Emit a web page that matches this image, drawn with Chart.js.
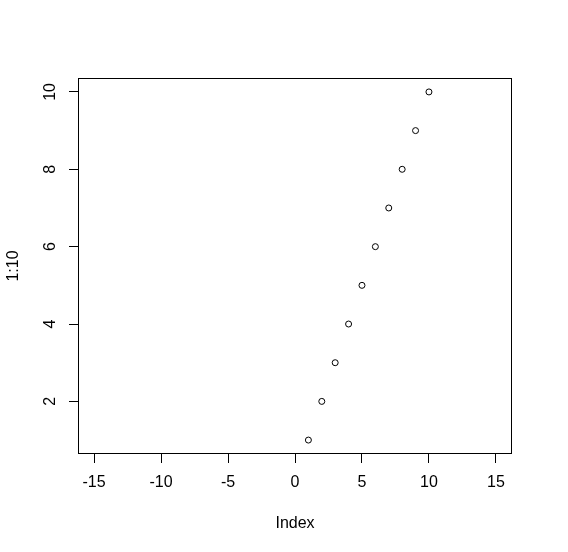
<!DOCTYPE html>
<html>
<head>
<meta charset="utf-8">
<script src="https://cdn.jsdelivr.net/npm/chart.js@4/dist/chart.umd.min.js"></script>
<style>
html,body{margin:0;padding:0;background:#fff;}
canvas{display:block;}
</style>
</head>
<body>
<canvas id="c" width="568" height="552"></canvas>
<script>
const indexValues = [1, 2, 3, 4, 5, 6, 7, 8, 9, 10];
const seriesValues = [1, 2, 3, 4, 5, 6, 7, 8, 9, 10];
const xTicks = [-15, -10, -5, 0, 5, 10, 15];
const yTicks = [2, 4, 6, 8, 10];
const xLimits = [-16.2, 16.2];
const yLimits = [0.64, 10.36];
const xTitle = 'Index';
const yTitle = '1:10';

const FONT = {family: '"Liberation Sans", Arial, sans-serif', size: 16};

const boxPlugin = {
  id: 'box',
  afterDraw(chart) {
    const a = chart.chartArea;
    const ctx = chart.ctx;
    ctx.save();
    ctx.strokeStyle = '#000';
    ctx.lineWidth = 1;
    ctx.strokeRect(Math.round(a.left) + 0.5, Math.round(a.top) + 0.5,
      Math.round(a.right - a.left) - 1, Math.round(a.bottom - a.top) - 1);
    ctx.restore();
  }
};

new Chart(document.getElementById('c'), {
  type: 'scatter',
  data: {
    datasets: [{
      data: indexValues.map((x, i) => ({x: x, y: seriesValues[i]})),
      pointRadius: 3,
      pointHoverRadius: 3,
      pointBorderWidth: 1,
      pointBorderColor: '#000',
      pointBackgroundColor: 'rgba(0,0,0,0)',
      showLine: false
    }]
  },
  options: {
    responsive: false,
    animation: false,
    events: [],
    layout: {padding: {top: 78, right: 56, left: 0, bottom: 0}},
    plugins: {legend: {display: false}, tooltip: {enabled: false}},
    scales: {
      x: {
        type: 'linear',
        min: xLimits[0],
        max: xLimits[1],
        afterBuildTicks(scale) { scale.ticks = xTicks.map(v => ({value: v})); },
        afterFit(scale) { scale.height = 98; },
        grid: {display: true, drawOnChartArea: false, drawTicks: true, tickLength: 9, color: '#000', lineWidth: 1},
        border: {display: false},
        ticks: {color: '#000', font: FONT, padding: 10, maxRotation: 0, minRotation: 0},
        title: {display: true, text: xTitle, color: '#000', font: FONT, padding: {top: 0, bottom: 19}}
      },
      y: {
        type: 'linear',
        min: yLimits[0],
        max: yLimits[1],
        afterBuildTicks(scale) { scale.ticks = yTicks.map(v => ({value: v})); },
        afterFit(scale) { scale.width = 78; },
        grid: {display: true, drawOnChartArea: false, drawTicks: true, tickLength: 9, color: '#000', lineWidth: 1},
        border: {display: false},
        ticks: {color: '#000', font: FONT, padding: 10, minRotation: 90, maxRotation: 90, crossAlign: 'center'},
        title: {display: true, text: yTitle, color: '#000', font: FONT, padding: {top: 4, bottom: 0}}
      }
    }
  },
  plugins: [boxPlugin]
});
</script>
</body>
</html>
